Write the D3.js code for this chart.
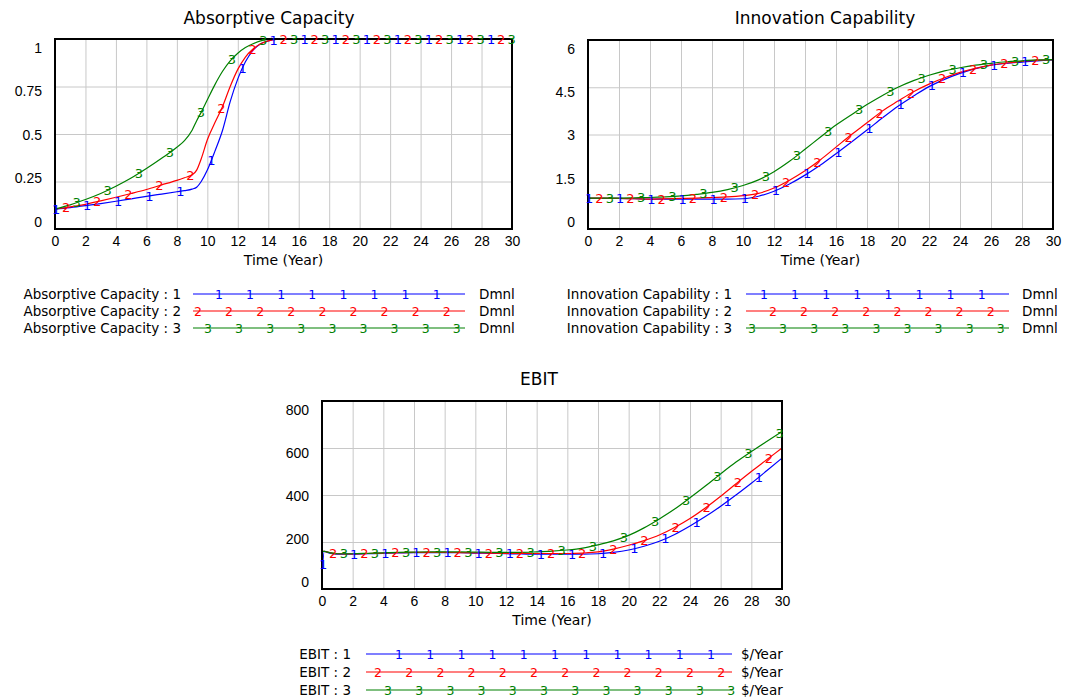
<!DOCTYPE html>
<html lang="en">
<head>
  <meta charset="UTF-8">
  <title>Absorptive Capacity, Innovation Capability, EBIT</title>
  <script src="https://d3js.org/d3.v7.min.js"></script>
  <style>
    body { margin: 0; background: #fff; }
    svg { display: block; font-family: "DejaVu Sans", sans-serif; }
    .grid line { stroke: #c8c8c8; stroke-width: 1; }
    .grid path { display: none; }
    .ticks path { display: none; }
  </style>
</head>
<body>
<div class="main"></div>
<script>
  // ---- data ----
  let yearTicks = [0, 2, 4, 6, 8, 10, 12, 14, 16, 18, 20, 22, 24, 26, 28, 30];

  let absorptiveTime = [0, 1, 2, 3, 4, 5, 6, 7, 8, 8.5, 9, 9.3, 9.6, 10, 10.5, 11, 11.5, 12, 12.5, 13, 13.5, 14, 14.5, 15, 30];
  let absorptive1 = [0.105, 0.113, 0.123, 0.134, 0.146, 0.159, 0.172, 0.184, 0.196, 0.202, 0.21, 0.22, 0.25, 0.31, 0.41, 0.52, 0.67, 0.79, 0.88, 0.94, 0.975, 0.99, 0.998, 1, 1];
  let absorptive2 = [0.105, 0.116, 0.13, 0.148, 0.167, 0.187, 0.208, 0.232, 0.256, 0.27, 0.285, 0.31, 0.37, 0.47, 0.56, 0.645, 0.75, 0.84, 0.905, 0.947, 0.975, 0.99, 0.998, 1, 1];
  let absorptive3 = [0.105, 0.127, 0.155, 0.187, 0.225, 0.268, 0.318, 0.372, 0.43, 0.465, 0.52, 0.57, 0.615, 0.68, 0.76, 0.83, 0.885, 0.925, 0.955, 0.975, 0.99, 0.998, 1, 1, 1];
  let absorptiveTicks = [0, 0.25, 0.5, 0.75, 1];

  let innovationTime = [0, 1, 2, 3, 4, 5, 6, 7, 8, 9, 10, 11, 12, 13, 14, 15, 16, 17, 18, 19, 20, 21, 22, 23, 24, 25, 26, 27, 28, 29, 30];
  let innovation1 = [0.97, 0.97, 0.97, 0.96, 0.95, 0.95, 0.95, 0.95, 0.95, 0.95, 0.96, 1.04, 1.2, 1.43, 1.71, 2.03, 2.39, 2.76, 3.14, 3.53, 3.9, 4.22, 4.52, 4.75, 4.94, 5.09, 5.2, 5.26, 5.3, 5.34, 5.37];
  let innovation2 = [0.98, 0.98, 0.97, 0.96, 0.95, 0.96, 0.97, 0.98, 1.0, 1.02, 1.06, 1.13, 1.3, 1.55, 1.85, 2.2, 2.6, 3.0, 3.37, 3.75, 4.06, 4.36, 4.6, 4.8, 4.97, 5.1, 5.2, 5.27, 5.32, 5.36, 5.38];
  let innovation3 = [0.98, 0.98, 0.98, 0.99, 1.0, 1.02, 1.05, 1.1, 1.16, 1.25, 1.38, 1.56, 1.82, 2.15, 2.53, 2.92, 3.3, 3.63, 3.95, 4.24, 4.5, 4.71, 4.88, 5.02, 5.12, 5.2, 5.26, 5.31, 5.34, 5.37, 5.38];
  let innovationTicks = [0, 1.5, 3, 4.5, 6];

  let ebitTime = [0, 0.15, 0.5, 1, 2, 3, 4, 5, 6, 7, 8, 9, 10, 11, 12, 13, 14, 15, 16, 17, 18, 19, 20, 21, 22, 23, 24, 25, 26, 27, 28, 29, 30];
  let ebit1 = [60, 160, 152, 148, 148, 150, 152, 154, 155, 155, 155, 155, 153, 152, 150, 149, 148, 148, 148, 148, 150, 156, 166, 182, 203, 232, 268, 308, 352, 400, 450, 503, 557];
  let ebit2 = [160, 160, 155, 150, 149, 151, 153, 155, 156, 156, 156, 155, 154, 153, 152, 151, 151, 151, 151, 153, 158, 170, 186, 206, 230, 262, 300, 345, 395, 448, 500, 550, 600];
  let ebit3 = [160, 160, 155, 150, 150, 152, 154, 156, 157, 158, 158, 158, 157, 156, 156, 156, 158, 161, 166, 174, 188, 205, 228, 260, 298, 340, 388, 438, 490, 540, 585, 628, 670];
  let ebitTicks = [0, 200, 400, 600, 800];

  let runNames = ["1", "2", "3"];
  let runColors = ["#0000ff", "#ff0000", "#008000"];

  // ---- layout ----
  let charts = [
    { title: "Absorptive Capacity", titleX: 269, titleY: 18, box: [55, 39, 512, 229],
      time: absorptiveTime, series: [absorptive1, absorptive2, absorptive3], ticks: absorptiveTicks,
      unit: "Dmnl", markStep: 2.04,
      legend: { textRight: 181, x1: 193, x2: 465, unitX: 479, rows: [294, 311, 328], first: [219, 198, 208], step: 31.1 } },
    { title: "Innovation Capability", titleX: 825, titleY: 18, box: [588, 40, 1053, 229],
      time: innovationTime, series: [innovation1, innovation2, innovation3], ticks: innovationTicks,
      unit: "Dmnl", markStep: 2.01,
      legend: { textRight: 732, x1: 746, x2: 1009, unitX: 1022, rows: [294, 311, 328], first: [764, 773, 752], step: 31.1 } },
    { title: "EBIT", titleX: 539, titleY: 379, box: [322, 401, 782, 589],
      time: ebitTime, series: [ebit1, ebit2, ebit3], ticks: ebitTicks,
      unit: "$/Year", markStep: 2.03,
      legend: { textRight: 351, x1: 366, x2: 732, unitX: 741, rows: [654, 672, 690], first: [399, 378, 388], step: 31.2 } }
  ];
  let markOffsets = [0.07, 0.73, 1.42];

  let width = 1066;
  let height = 700;
  let svg = d3.select(".main").append("svg").attr("width", width).attr("height", height);

  function valueAt(time, vals, t) {
    let i = d3.bisectRight(time, t);
    if (i <= 0) return vals[0];
    if (i >= time.length) return vals[vals.length - 1];
    let f = (t - time[i - 1]) / (time[i] - time[i - 1]);
    return vals[i - 1] + f * (vals[i] - vals[i - 1]);
  }

  charts.forEach(function(c) {
    let [left, top, right, bottom] = c.box;
    let x = d3.scaleLinear().domain([0, 30]).range([left, right]);
    let yMax = c.ticks[c.ticks.length - 1];
    let y = d3.scaleLinear().domain([0, yMax]).range([bottom, top]);
    // vensim spreads the value labels a little inside the frame
    let yLabel = d3.scaleLinear().domain([0, yMax]).range([bottom - 7, top + 9]);

    let g = svg.append("g");

    // title
    g.append("text").attr("x", c.titleX).attr("y", c.titleY).attr("dy", "0.35em")
      .attr("text-anchor", "middle").style("font-size", "17px").text(c.title);

    // grid
    g.append("g").attr("class", "grid").attr("transform", "translate(0," + bottom + ")")
      .call(d3.axisBottom(x).tickValues(yearTicks.slice(1, -1)).tickSize(-(bottom - top)).tickFormat(""));
    g.append("g").attr("class", "grid").attr("transform", "translate(" + left + ",0)")
      .call(d3.axisLeft(y).tickValues(c.ticks.slice(1, -1)).tickSize(-(right - left)).tickFormat(""));

    // tick labels
    let xa = g.append("g").attr("class", "ticks").attr("transform", "translate(0," + bottom + ")")
      .call(d3.axisBottom(x).tickValues(yearTicks).tickSize(0).tickPadding(7).tickFormat(d3.format("d")));
    xa.selectAll("text").style("font-size", "14px").attr("fill", "#000");
    let ya = g.append("g").attr("class", "ticks").attr("transform", "translate(" + left + ",0)")
      .call(d3.axisLeft(yLabel).tickValues(c.ticks).tickSize(0).tickPadding(13).tickFormat(d3.format("~g")));
    ya.selectAll("text").style("font-size", "14px").attr("fill", "#000");

    g.append("text").attr("x", (left + right) / 2).attr("y", bottom + 31).attr("dy", "0.35em")
      .attr("text-anchor", "middle").style("font-size", "14px").text("Time (Year)");

    // series lines
    let line = d3.line().x(function(d) { return x(d[0]); }).y(function(d) { return y(d[1]); }).curve(d3.curveMonotoneX);
    c.series.forEach(function(vals, s) {
      let pts = c.time.map(function(t, i) { return [t, vals[i]]; });
      g.append("path").datum(pts).attr("d", line).attr("fill", "none")
        .attr("stroke", runColors[s]).attr("stroke-width", 1.2);
    });

    // frame
    g.append("rect").attr("x", left).attr("y", top).attr("width", right - left).attr("height", bottom - top)
      .attr("fill", "none").attr("stroke", "#000").attr("stroke-width", 2);

    // run number markers along the lines
    c.series.forEach(function(vals, s) {
      for (let t = markOffsets[s]; t <= 30.05; t += c.markStep) {
        g.append("text").attr("x", x(t)).attr("y", y(valueAt(c.time, vals, t))).attr("dy", "0.36em")
          .attr("text-anchor", "middle").attr("fill", runColors[s]).style("font-size", "13px").text(runNames[s]);
      }
    });

    // legend
    let L = c.legend;
    runNames.forEach(function(name, s) {
      let ry = L.rows[s];
      g.append("text").attr("x", L.textRight).attr("y", ry).attr("dy", "0.35em").attr("text-anchor", "end")
        .style("font-size", "13.5px").text(c.title + " : " + name);
      g.append("line").attr("x1", L.x1).attr("x2", L.x2).attr("y1", ry).attr("y2", ry)
        .attr("stroke", runColors[s]).attr("stroke-width", 1.2);
      for (let mx = L.first[s]; mx <= L.x2; mx += L.step) {
        g.append("text").attr("x", mx).attr("y", ry).attr("dy", "0.36em").attr("text-anchor", "middle")
          .attr("fill", runColors[s]).style("font-size", "12.5px").text(name);
      }
      g.append("text").attr("x", L.unitX).attr("y", ry).attr("dy", "0.35em")
        .style("font-size", "13.5px").text(c.unit);
    });
  });
</script>
</body>
</html>
